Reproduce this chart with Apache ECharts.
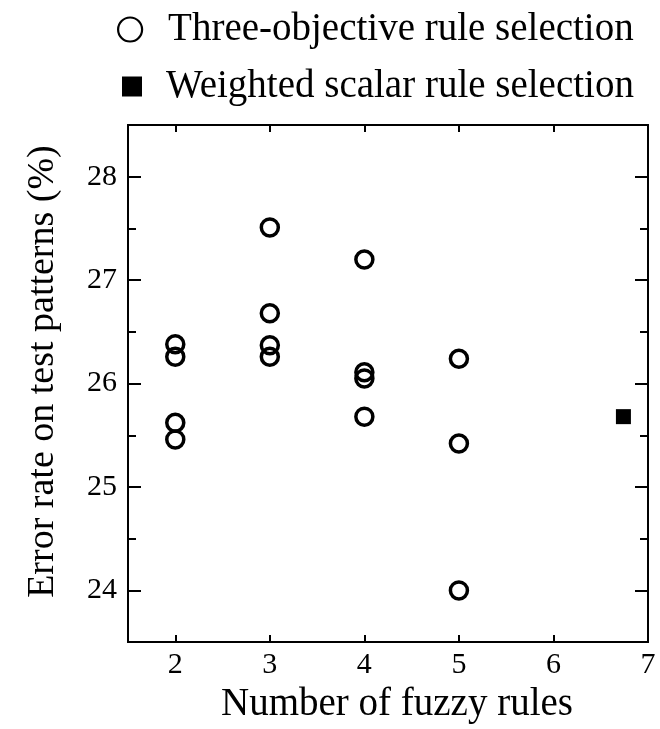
<!DOCTYPE html>
<html>
<head>
<meta charset="utf-8">
<script src="https://cdn.jsdelivr.net/npm/echarts@6/dist/echarts.min.js"></script>
<style>
html,body{margin:0;padding:0;background:#fff;}
#chart{width:660px;height:729px;}
</style>
</head>
<body>
<div id="chart"></div>
<script>
// ---- data ----
const seriesNames = ['Three-objective rule selection', 'Weighted scalar rule selection'];
const threeObjRules = [2, 2, 2, 2, 3, 3, 3, 3, 4, 4, 4, 4, 5, 5, 5];
const threeObjError = [26.38, 26.26, 25.62, 25.46, 27.51, 26.68, 26.37, 26.26, 27.20, 26.11, 26.05, 25.68, 26.24, 25.42, 24.00];
const weightedRules = [6.74];
const weightedError = [25.68];
const xTicks = [2, 3, 4, 5, 6, 7];
const yTicks = [24, 25, 26, 27, 28];
const yMinorTicks = [24.5, 25.5, 26.5, 27.5];
const xTitle = 'Number of fuzzy rules';
const yTitle = 'Error rate on test patterns (%)';

const FONT = 'Liberation Serif';
const black = '#000';

const chart = echarts.init(document.getElementById('chart'), null, {renderer: 'canvas'});

function xAx(pos, labels) {
  return {
    type: 'value', position: pos, min: 1.5, max: 7,
    axisLine: {show: true, onZero: false, lineStyle: {color: black, width: 2}},
    axisTick: {show: true, inside: true, length: 7, customValues: xTicks, lineStyle: {color: black, width: 2}},
    axisLabel: {show: labels, customValues: xTicks, margin: 8, color: black, fontFamily: FONT, fontSize: 30},
    splitLine: {show: false},
    name: labels ? xTitle : '',
    nameLocation: 'middle', nameGap: 40,
    nameTextStyle: {color: black, fontFamily: FONT, fontSize: 39, padding: [0, 0, 0, 18]}
  };
}
function yAx(pos, ticks, len, labels) {
  return {
    type: 'value', position: pos, min: 23.5, max: 28.5,
    axisLine: {show: true, onZero: false, lineStyle: {color: black, width: 2}},
    axisTick: {show: true, inside: true, length: len, customValues: ticks, lineStyle: {color: black, width: 2}},
    axisLabel: {show: labels, customValues: yTicks, margin: 11, color: black, fontFamily: FONT, fontSize: 30},
    splitLine: {show: false},
    name: labels ? yTitle : '',
    nameLocation: 'middle', nameGap: 66, nameRotate: 90,
    nameTextStyle: {color: black, fontFamily: FONT, fontSize: 38, padding: [0, 0, 0, 24]}
  };
}

const option = {
  animation: false,
  backgroundColor: '#fff',
  grid: {left: 128, right: 12, top: 125, bottom: 83, containLabel: false},
  legend: [
    {
      left: 117, top: 10, padding: 0, itemWidth: 24, itemHeight: 24, selectedMode: false,
      textStyle: {color: black, fontFamily: FONT, fontSize: 39, padding: [0, 0, 0, 21]},
      data: [{name: seriesNames[0], icon: 'circle', itemStyle: {color: 'rgba(0,0,0,0)', borderColor: black, borderWidth: 2.2}}]
    },
    {
      left: 122, top: 67, padding: 0, itemWidth: 20, itemHeight: 20, selectedMode: false,
      textStyle: {color: black, fontFamily: FONT, fontSize: 39, padding: [0, 0, 0, 19]},
      data: [{name: seriesNames[1], icon: 'rect', itemStyle: {color: black, borderWidth: 0}}]
    }
  ],
  xAxis: [xAx('bottom', true), xAx('top', false)],
  yAxis: [
    yAx('left', yTicks, 13, true),
    yAx('left', yMinorTicks, 8, false),
    yAx('right', yTicks, 13, false),
    yAx('right', yMinorTicks, 8, false)
  ],
  series: [
    {
      name: seriesNames[0], type: 'scatter', xAxisIndex: 0, yAxisIndex: 0,
      symbol: 'circle', symbolSize: 17,
      itemStyle: {color: 'rgba(0,0,0,0)', borderColor: black, borderWidth: 3.5, opacity: 1},
      data: threeObjRules.map((x, i) => [x, threeObjError[i]])
    },
    {
      name: seriesNames[1], type: 'scatter', xAxisIndex: 0, yAxisIndex: 0,
      symbol: 'rect', symbolSize: 15,
      itemStyle: {color: black, opacity: 1},
      data: weightedRules.map((x, i) => [x, weightedError[i]])
    }
  ]
};
chart.setOption(option);
</script>
</body>
</html>
